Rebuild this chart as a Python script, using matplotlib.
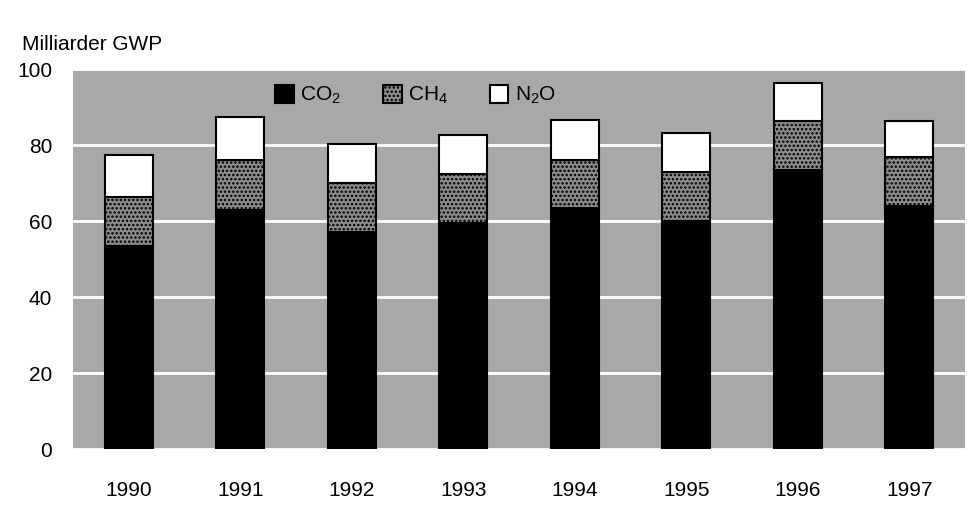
import matplotlib.pyplot as plt
import numpy as np
from matplotlib.patches import Patch

plt.rcParams["font.family"] = ["Liberation Sans", "DejaVu Sans"]
plt.rcParams["mathtext.fontset"] = "custom"
plt.rcParams["mathtext.rm"] = "Liberation Sans"
plt.rcParams["mathtext.it"] = "Liberation Sans"
plt.rcParams["hatch.linewidth"] = 1.2

years = ["1990", "1991", "1992", "1993", "1994", "1995", "1996", "1997"]
co2 = [53.4, 63.0, 57.2, 59.4, 63.5, 60.0, 73.4, 63.9]
ch4 = [13.0, 13.1, 12.9, 13.1, 12.7, 13.0, 12.9, 12.9]
n2o = [11.0, 11.2, 10.2, 10.1, 10.4, 10.1, 10.1, 9.5]

fig = plt.figure(figsize=(9.73, 5.12), dpi=100)
ax = fig.add_axes([0.075, 0.123, 0.917, 0.742])
ax.set_facecolor("#a8a8a8")

x = np.arange(len(years))
w = 0.43
co2 = np.array(co2)
ch4 = np.array(ch4)
n2o = np.array(n2o)

ax.bar(x, co2, w, color="black", edgecolor="black", linewidth=1.5, zorder=3)
ax.bar(x, ch4, w, bottom=co2, color="#8c8c8c", edgecolor="black",
       hatch="....", linewidth=1.5, zorder=3)
ax.bar(x, n2o, w, bottom=co2 + ch4, color="white", edgecolor="black",
       linewidth=1.5, zorder=3)

ax.set_xlim(-0.5, len(years) - 0.5)
ax.set_ylim(0, 100)
ax.set_yticks([0, 20, 40, 60, 80, 100])
ax.set_xticks(x)
ax.set_xticklabels(years)
ax.tick_params(axis="both", length=0, labelsize=15)
ax.tick_params(axis="y", pad=15)
ax.tick_params(axis="x", pad=23)
ax.grid(axis="y", color="white", linewidth=2, zorder=1)
for s in ax.spines.values():
    s.set_visible(False)

handles = [
    Patch(facecolor="black", edgecolor="black", linewidth=1.5),
    Patch(facecolor="#8c8c8c", edgecolor="black", hatch="....", linewidth=1.5),
    Patch(facecolor="white", edgecolor="black", linewidth=1.5),
]
labels = ["CO$_2$", "CH$_4$", "N$_2$O"]
ax.legend(handles, labels, loc="center", bbox_to_anchor=(0.384, 0.93),
          ncol=3, frameon=False, fontsize=15, handlelength=0.9,
          handleheight=0.9, handletextpad=0.3, columnspacing=2.0)

fig.text(22 / 973, 1 - 45 / 512, "Milliarder GWP", fontsize=15,
         ha="left", va="center")

fig.savefig("out.png", dpi=100)
